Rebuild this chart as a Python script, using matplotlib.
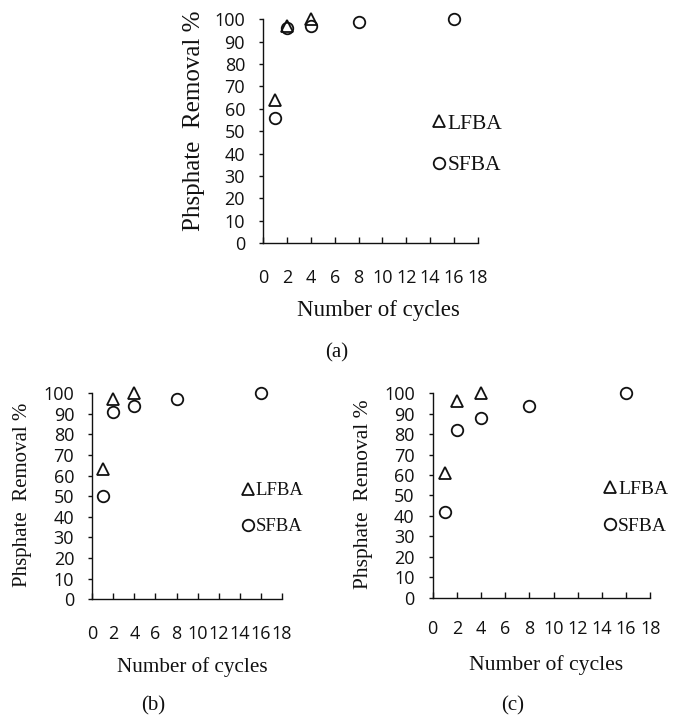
import matplotlib
matplotlib.use("Agg")
import matplotlib.pyplot as plt

# data
cycles_lfba = [1, 2, 4]
cycles_sfba = [1, 2, 4, 8, 16]

lfba_a = [64, 97, 100]
sfba_a = [56, 96, 97, 99, 100]

lfba_b = [63, 97, 100]
sfba_b = [50, 91, 94, 97, 100]

lfba_c = [61, 96, 100]
sfba_c = [42, 82, 88, 94, 100]

panel_names = ["(a)", "(b)", "(c)"]
x_ticks = list(range(0, 19, 2))
y_ticks = list(range(0, 101, 10))

SERIF = "Liberation Serif"
SANS = "Open Sans"
INK = "#111111"

fig = plt.figure(figsize=(6.73, 7.15), dpi=100)

# [left, bottom, width, height] in figure fraction
boxes = [
    [0.391, 0.660, 0.319, 0.313],
    [0.137, 0.162, 0.282, 0.288],
    [0.643, 0.164, 0.323, 0.286],
]
ylab_x = [-0.27, -0.316, -0.276]
ylab_y = [0.545, 0.505, 0.507]
ylab_size = [18, 15, 15.5]
xlab_size = [16.5, 15.2, 15.6]
leg_size = [15.5, 13.5, 14]
xtick_pad = [19, 18.5, 16]
xlab_pos = [(0.535, -0.255), (0.53, -0.281), (0.52, -0.28)]
tag_pos = [(0.501, 0.506), (0.228, 0.013), (0.762, 0.013)]

datasets = [(lfba_a, sfba_a), (lfba_b, sfba_b), (lfba_c, sfba_c)]

for i, (lfba, sfba) in enumerate(datasets):
    ax = fig.add_axes(boxes[i])
    ax.plot(cycles_lfba, lfba, linestyle="none", marker="^", markersize=8.3,
            markerfacecolor="none", markeredgecolor=INK, markeredgewidth=1.3,
            clip_on=False, label="LFBA")
    ax.plot(cycles_sfba, sfba, linestyle="none", marker="o", markersize=8.3,
            markerfacecolor="none", markeredgecolor=INK, markeredgewidth=1.3,
            clip_on=False, label="SFBA")

    ax.set_xlim(0, 18)
    ax.set_ylim(0, 100)
    ax.set_xticks(x_ticks)
    ax.set_yticks(y_ticks)

    for s in ["top", "right"]:
        ax.spines[s].set_visible(False)
    for s in ["left", "bottom"]:
        ax.spines[s].set_color(INK)
        ax.spines[s].set_linewidth(1.0)

    ax.tick_params(axis="x", direction="in", length=4, width=1.0, color=INK,
                   pad=xtick_pad[i], labelsize=13)
    ax.tick_params(axis="y", direction="out", length=3, width=1.0, color=INK,
                   pad=10, labelsize=13)
    for lab in ax.get_xticklabels() + ax.get_yticklabels():
        lab.set_fontfamily(SANS)
        lab.set_color(INK)

    ax.set_ylabel("Phsphate  Removal %", fontfamily=SERIF, fontsize=ylab_size[i], color=INK)
    ax.yaxis.set_label_coords(ylab_x[i], ylab_y[i])
    ax.set_xlabel("Number of cycles", fontfamily=SERIF, fontsize=xlab_size[i], color=INK)
    ax.xaxis.set_label_coords(*xlab_pos[i])

    ax.legend(loc="center left", bbox_to_anchor=(0.795, 0.44), frameon=False,
              prop={"family": SERIF, "size": leg_size[i]}, handlelength=0.5,
              handletextpad=0.15, labelspacing=1.0, borderpad=0,
              borderaxespad=0, labelcolor=INK)

    fig.text(tag_pos[i][0], tag_pos[i][1], panel_names[i], ha="center", va="center",
             fontfamily=SERIF, fontsize=15, color=INK)

fig.savefig("out.png", dpi=100)
